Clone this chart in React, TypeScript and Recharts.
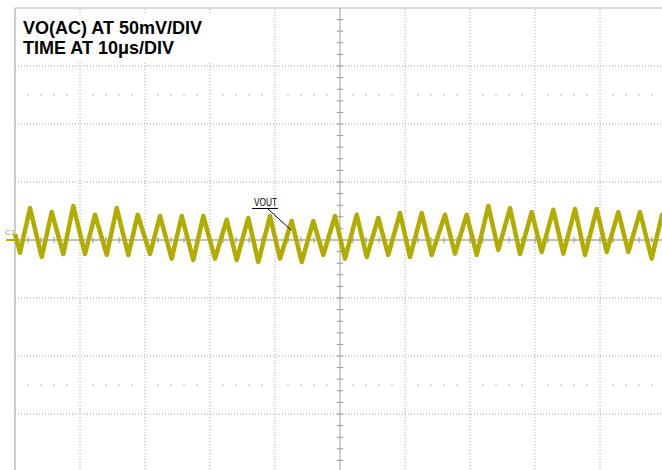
import { ComposedChart, Line, XAxis, YAxis, ReferenceLine, ReferenceDot } from "recharts";

// scope trace: time in µs (10 µs/div), VOUT in mV (50 mV/div)
const peakTimes = [2.31, 5.65, 8.97, 12.31, 15.65, 18.88, 22.31, 25.65, 28.97, 32.57, 35.89, 39.23, 42.57, 45.89, 49.23, 52.57, 55.89, 59.23, 62.57, 66.15, 69.49, 72.82, 76.15, 79.49, 82.82, 86.15, 89.49, 92.82, 96.15, 99.54];
const peakMv = [27.6, 24.1, 29.3, 21.8, 27.6, 21.8, 20.7, 20.7, 20.7, 17.5, 19, 20.7, 16.4, 16.4, 20.7, 21.8, 19, 23.3, 23.3, 21.8, 21.8, 29.3, 27.6, 24.1, 26.1, 26.7, 26.7, 24.1, 24.1, 21.8];
const troughTimes = [0.77, 4.11, 7.43, 10.77, 14.11, 17.43, 20.77, 24.11, 27.43, 30.77, 34.11, 37.43, 40.77, 44.11, 47.43, 50.77, 54.11, 57.43, 60.77, 64.11, 67.69, 71.03, 74.36, 77.69, 81.03, 84.36, 87.69, 91.03, 94.36, 97.95];
const troughMv = [-11, -14.7, -12.1, -12.1, -12.9, -12.9, -12.1, -16.1, -17.2, -16.1, -17.2, -19, -16.1, -19, -12.9, -16.1, -14.7, -12.9, -14.7, -12.9, -11.8, -12.9, -8.6, -12.1, -10.3, -11.8, -12.9, -10.3, -10.3, -16.1];
const edgeTimes = [0, 100];
const edgeMv = [5, 18];

const gridTimes = [10, 20, 30, 40, 60, 70, 80, 90];
const gridMv = [-150, -100, -50, 50, 100, 150];
const dotRowMv = [-125, 125];

// minor divisions: 5 per major division
const minorTimes = Array.from({ length: 49 }, (_, i) => (i + 1) * 2);
const minorMv = Array.from({ length: 39 }, (_, i) => -190 + i * 10).filter((v) => v !== 0);

const trace = [
  ...edgeTimes.map((t, i) => ({ t, v: edgeMv[i] })),
  ...peakTimes.map((t, i) => ({ t, v: peakMv[i] })),
  ...troughTimes.map((t, i) => ({ t, v: troughMv[i] })),
].sort((a, b) => a.t - b.t);

const GRID = "#a4a4a4";
const TRACE = "#b2ac00";

export default function App() {
  return (
    <div style={{ position: "relative", width: 662, height: 470, overflow: "hidden", background: "#fff" }}>
      <style>{"body{margin:0;overflow:hidden}"}</style>
      <ComposedChart width={670} height={480} data={trace} margin={{ top: 8, right: 5, bottom: 8, left: 15 }}>
        <XAxis type="number" dataKey="t" domain={[0, 100]} hide />
        <YAxis type="number" domain={[-200, 200]} hide />

        {gridTimes.map((t) => (
          <ReferenceLine key={"gx" + t} x={t} stroke={GRID} strokeDasharray="1 2" />
        ))}
        {gridMv.map((v) => (
          <ReferenceLine key={"gy" + v} y={v} stroke={GRID} strokeDasharray="1 2" />
        ))}
        {dotRowMv.map((v) =>
          minorTimes
            .filter((t) => t % 10 !== 0)
            .map((t) => (
              <ReferenceDot key={"d" + v + "_" + t} x={t} y={v} r={0.7} fill="#999" stroke="none" />
            ))
        )}

        <ReferenceLine x={0} stroke="#999" />
        <ReferenceLine y={200} stroke="#bbb" />
        <ReferenceLine x={50} stroke="#a0a0a0" />
        <ReferenceLine y={0} stroke="#aaa" strokeWidth={1.6} />
        {minorTimes.map((t) => (
          <ReferenceLine key={"tx" + t} segment={[{ x: t, y: -2.8 }, { x: t, y: 2.8 }]} stroke="#999" />
        ))}
        {minorMv.map((v) => (
          <ReferenceLine key={"ty" + v} segment={[{ x: 49.5, y: v }, { x: 50.5, y: v }]} stroke="#999" />
        ))}

        <Line
          dataKey="v"
          type="linear"
          stroke={TRACE}
          strokeWidth={4.5}
          strokeLinejoin="round"
          dot={false}
          isAnimationActive={false}
        />
      </ComposedChart>

      <svg width={662} height={470} style={{ position: "absolute", left: 0, top: 0, pointerEvents: "none" }}>
        <text x={254} y={206} fontSize={10} textLength={23} lengthAdjust="spacingAndGlyphs" fontFamily="Liberation Sans, Arial, sans-serif" fill="#000">
          VOUT
        </text>
        <line x1={252} y1={208.5} x2={278} y2={208.5} stroke="#000" strokeWidth={1} />
        <line x1={268} y1={209} x2={291} y2={230} stroke="#000" strokeWidth={1} />
        <text x={5} y={235} fontSize={8} fontFamily="Liberation Sans, Arial, sans-serif" fill="#a8a33c">
          C1
        </text>
        <line x1={6} y1={240} x2={16} y2={240} stroke={TRACE} strokeWidth={2} />
      </svg>

      <div
        style={{
          position: "absolute",
          left: 16,
          top: 15,
          width: 197,
          height: 48,
          background: "#fff",
          boxSizing: "border-box",
          padding: "3px 0 0 7px",
          fontFamily: "'Liberation Sans', Arial, sans-serif",
          fontWeight: "bold",
          fontSize: 18,
          lineHeight: "20px",
          color: "#000",
          whiteSpace: "nowrap",
        }}
      >
        <div>VO(AC) AT 50mV/DIV</div>
        <div>TIME AT 10μs/DIV</div>
      </div>
    </div>
  );
}
